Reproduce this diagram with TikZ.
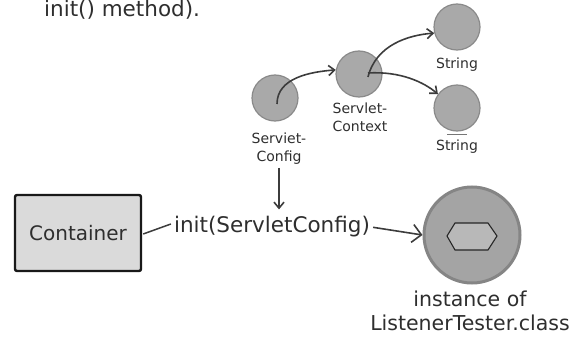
\documentclass[tikz,border=0pt]{standalone}
\usepackage{fontspec}
\setmainfont{DejaVu Sans}
\usetikzlibrary{arrows.meta,calc}
\definecolor{ballgray}{HTML}{A9A9A9}
\definecolor{balledge}{HTML}{8A8A8A}
\definecolor{linegray}{HTML}{3C3C3C}
\definecolor{boxfill}{HTML}{DADADA}
\definecolor{bigfill}{HTML}{A4A4A4}
\definecolor{bigedge}{HTML}{858585}
\definecolor{hexfill}{HTML}{B8B8B8}
\definecolor{inkgray}{HTML}{2E2E2E}
\begin{document}
\begin{tikzpicture}[x=1pt,y=-1pt,
  hand/.style={font=\fontsize{21.5}{25}\selectfont, text=inkgray, inner sep=1pt},
  small/.style={font=\fontsize{14}{18}\selectfont, text=inkgray, align=center, inner sep=1pt},
  ball/.style={circle, minimum size=46pt, inner sep=0pt, fill=ballgray, draw=balledge, line width=1.2pt},
  arr/.style={draw=linegray, line width=1.6pt, -{Straight Barb[length=6pt,width=10pt]}},
  bigarr/.style={draw=linegray, line width=1.6pt, -{Straight Barb[length=9pt,width=18pt]}},
  plainline/.style={draw=linegray, line width=1.5pt},
  boxstyle/.style={draw=black!90, line width=2.4pt, fill=boxfill, rounded corners=2pt,
    minimum width=126pt, minimum height=76pt, font=\fontsize{20}{24}\selectfont, text=inkgray},
]
\useasboundingbox (0,0) rectangle (584,337);

% top text
\node[hand, anchor=base west] (topt) at (43,17) {init() method).};

% small object graph
\node[ball] (sc) at (275,98) {};
\node[ball] (sctx) at (359,74) {};
\node[ball] (strA) at (457,27) {};
\node[ball] (strB) at (457,108) {};

\node[small] (scl) at (279,149) {Serviet-\\Config};
\node[small] (sctxl) at (360,117) {Servlet-\\Context};
\node[small] (strAl) at (457,65) {String};
\node[small] (strBl) at (457,147) {String};
\draw[draw=linegray!70, line width=1pt] ($(strB.south)+(-10,3)$) -- ($(strB.south)+(10,3)$);

\draw[arr] ($(sc.center)+(2,6)$) .. controls +(0,-26) and +(-26,2) .. (sctx.170);
\draw[arr] ($(sctx.center)+(9,3)$) .. controls +(8,-32) and +(-26,2) .. (strA.195);
\draw[arr] ($(sctx.center)+(9,-1)$) .. controls +(32,-2) and +(-14,-12) .. (strB.144);

% bottom row
\node[boxstyle] (box) at (78,233) {Container};
\node[hand] (initt) at (272,227) {init(ServletConfig)};
\node[circle, minimum size=96pt, inner sep=0pt, fill=bigfill, draw=bigedge, line width=3pt] (big) at (472,235) {};
\draw[draw=black!85, line width=1.1pt, fill=hexfill]
  ($(big.center)+(-25,1)$) -- ($(big.center)+(-17,-12)$) -- ($(big.center)+(16,-12)$)
  -- ($(big.center)+(25,1)$) -- ($(big.center)+(16,15)$) -- ($(big.center)+(-17,15)$) -- cycle;
\node[hand, align=center, font=\fontsize{20.5}{24}\selectfont] (inst) at (470,311) {instance of\\ListenerTester.class};

\draw[plainline] ($(box.east)+(1,1)$) -- ($(initt.west)+(-2,-3)$);
\draw[arr, shorten <=2pt, shorten >=6pt] (scl.south) -- (scl.south |- initt.north);
\draw[bigarr, shorten <=2pt] (initt.east) -- (big.west);
\end{tikzpicture}
\end{document}
